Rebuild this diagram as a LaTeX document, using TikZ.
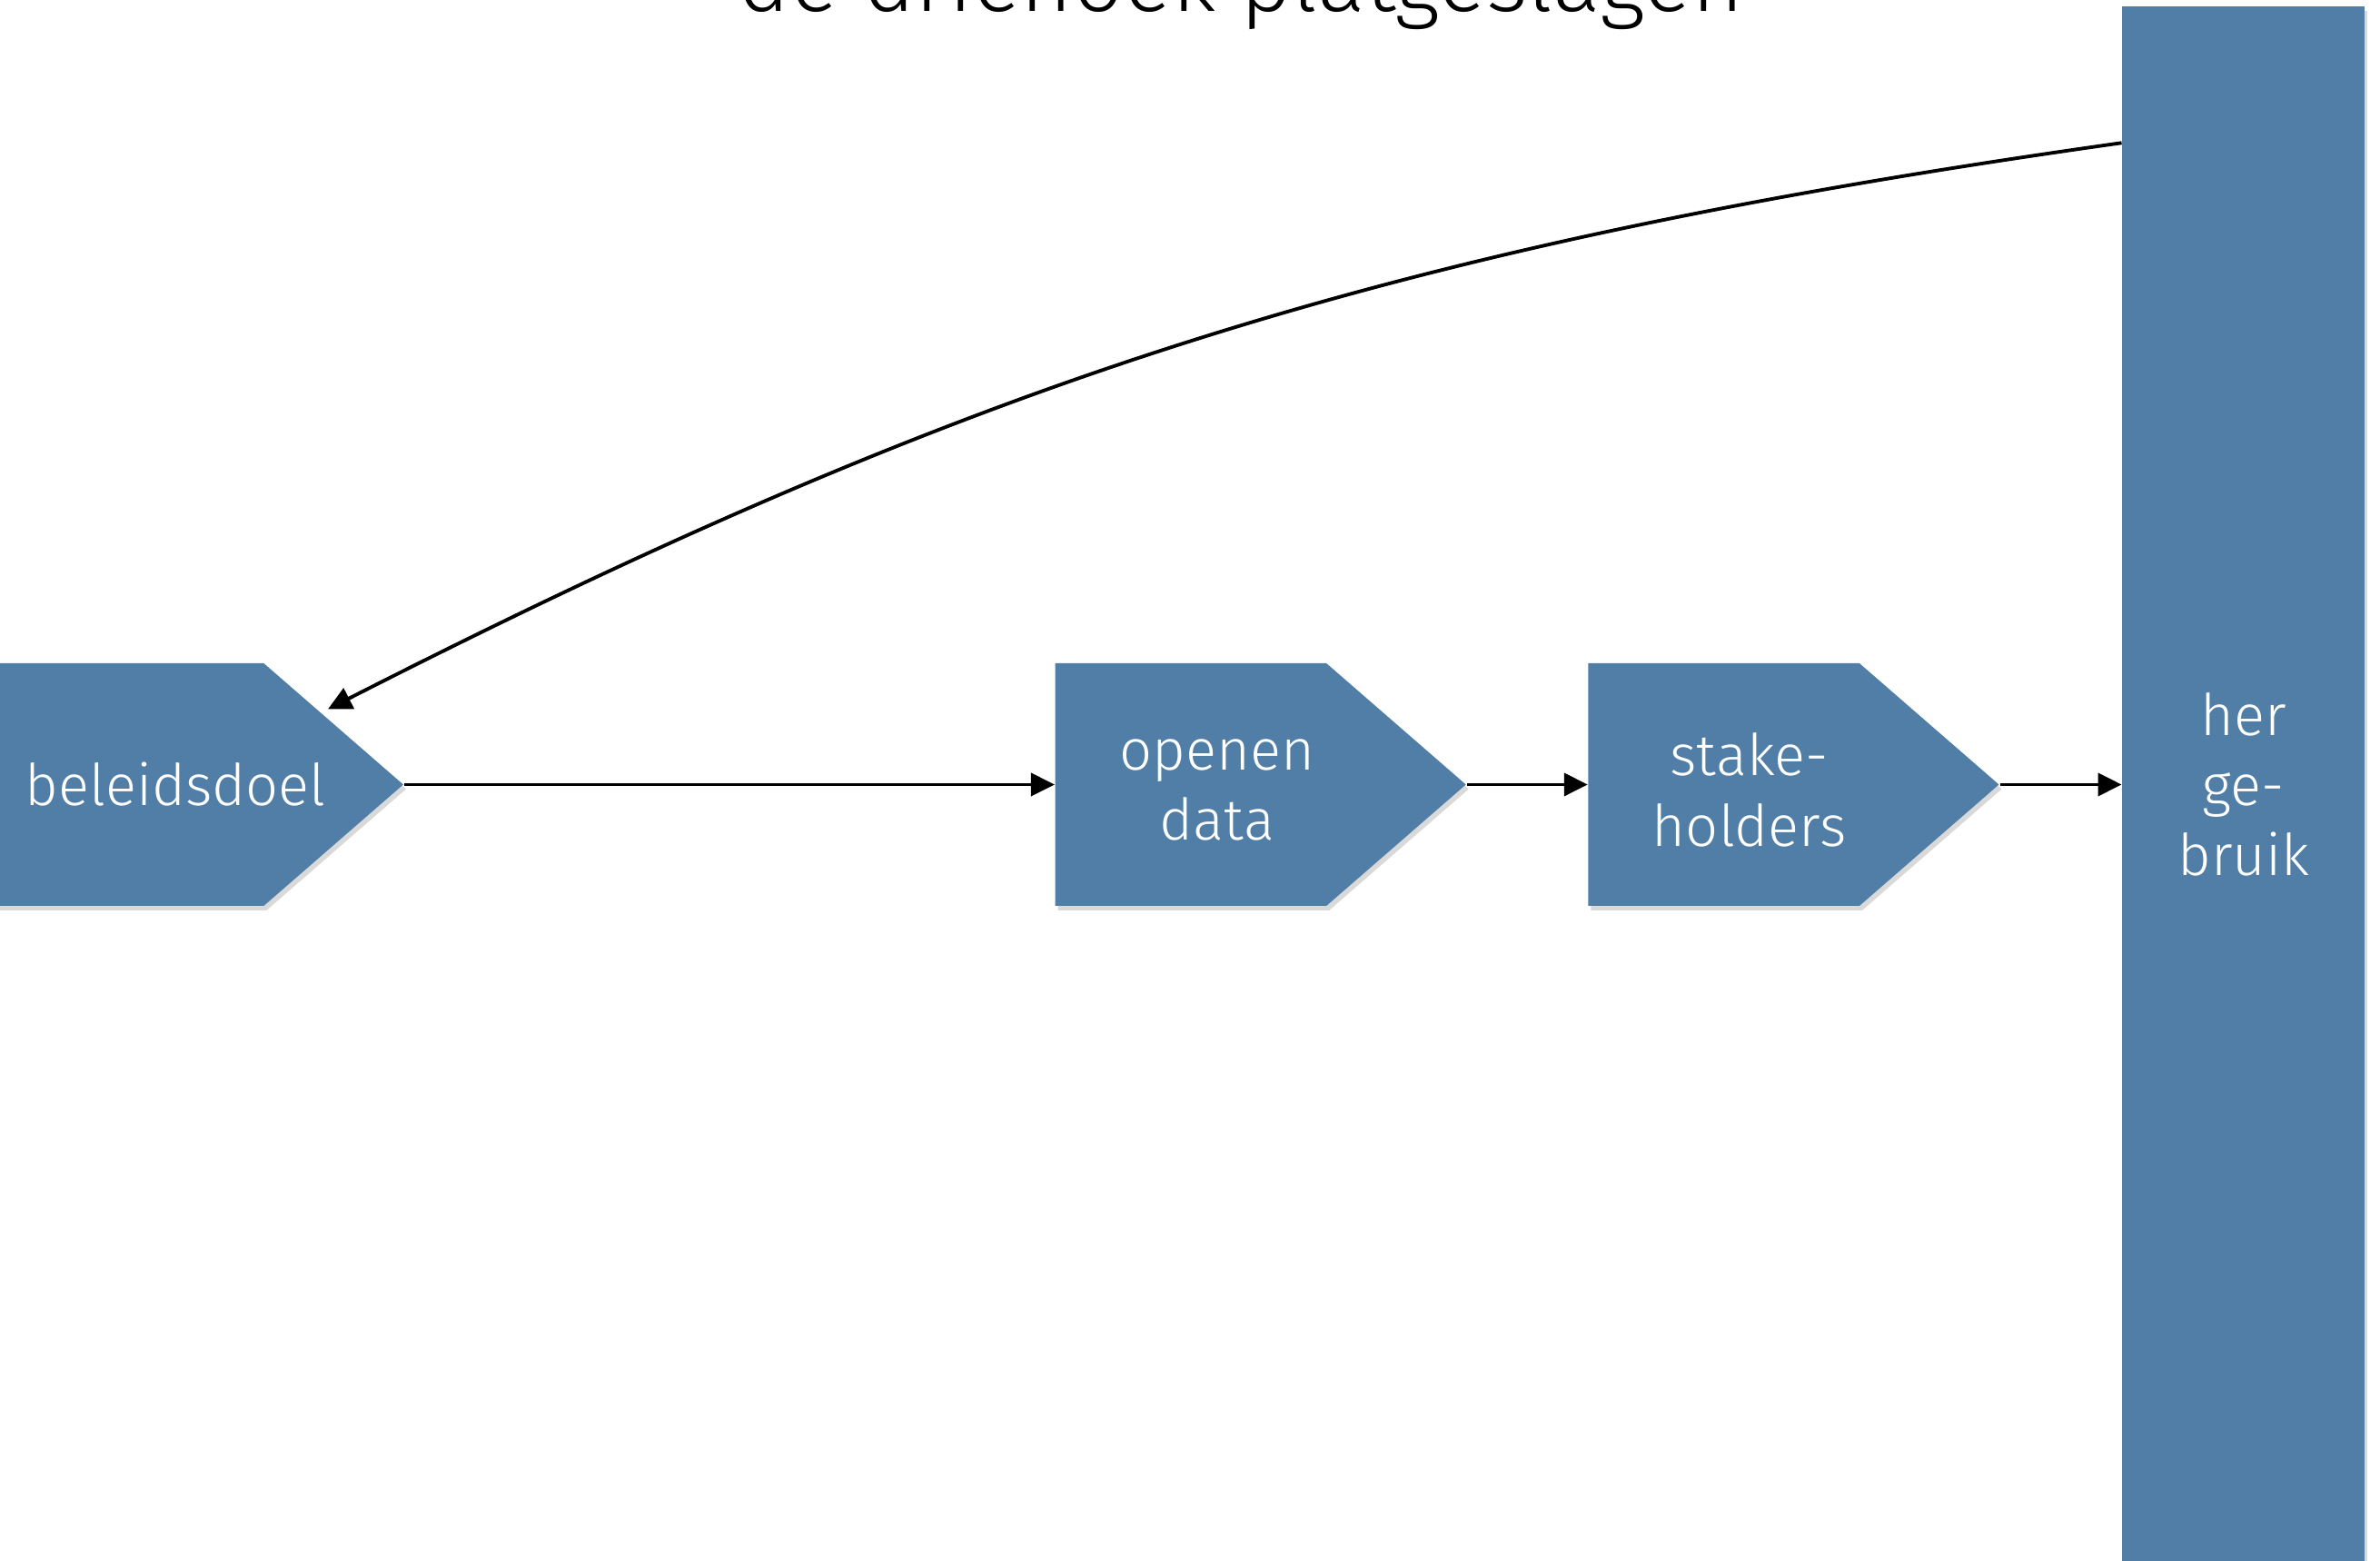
\documentclass[tikz,border=0pt]{standalone}
\usepackage{fontspec}
\setmainfont{Fira Sans}[UprightFont=* Light]
\usepackage{xcolor}
\usetikzlibrary{arrows.meta,positioning,shapes.symbols,shadows,calc}
\definecolor{stepblue}{RGB}{80,126,166}

\begin{document}
\begin{tikzpicture}[
  node distance=1.33cm,
  phase/.style={signal, signal to=east, signal pointer angle=82, fill=stepblue,
    minimum width=4.52cm, minimum height=2.67cm, inner sep=0pt,
    drop shadow={shadow xshift=0.03cm, shadow yshift=-0.05cm, opacity=0.3}},
  phasetext/.style={text=white, align=center, inner sep=0pt, font=\fontsize{18}{22}\selectfont},
  pillar/.style={rectangle, fill=stepblue, text=white, minimum width=2.67cm, minimum height=17.13cm,
    inner sep=0pt, align=center, font=\fontsize{18}{22}\selectfont,
    drop shadow={shadow xshift=0.03cm, shadow yshift=-0.05cm, opacity=0.3}},
  flow/.style={->, line width=1.1pt},
  >={Triangle[length=0.26cm,width=0.25cm]}
]
\useasboundingbox (0,0) rectangle (26.2,17.18);

% Title (cut off at the top)
\node[font=\fontsize{28}{32}\selectfont, anchor=base] (title) at (13.66,17.05) {de driehoek platgeslagen};

% Chain of steps
\node[phase, anchor=east, label={[phasetext, name=beleidtext, xshift=0.52cm]center:beleidsdoel}] (beleid) at (4.45,8.545) {};
\node[phase, right=7.16cm of beleid, label={[phasetext, name=openentext, xshift=0.29cm, yshift=-0.06cm]center:openen\\data}] (openen) {};
\node[phase, right=of openen, label={[phasetext, name=staketext, xshift=0.28cm, yshift=-0.06cm]center:stake-\\holders}] (stake) {};
\node[pillar, right=1.34cm of stake] (hergebruik) {her\\ge-\\bruik};

% Edges
\draw[flow] (beleid) -- (openen);
\draw[flow] (openen) -- (stake);
\draw[flow] (stake) -- (hergebruik);

% Feedback loop
\coordinate (terug) at ($(hergebruik.north west)+(0,-1.51)$);
\coordinate (doel) at ($(beleid.east)+(-0.84,0.83)$);
\draw[flow] (terug) to[out=188, in=27] (doel);

\end{tikzpicture}
\end{document}
